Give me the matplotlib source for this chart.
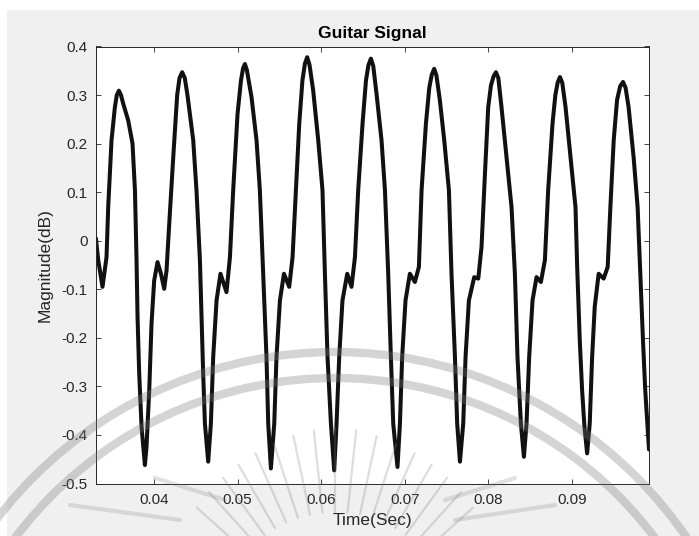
#!/usr/bin/env python3
import matplotlib
matplotlib.use("Agg")
import numpy as np
import matplotlib.pyplot as plt
from matplotlib.patches import Circle, Rectangle


# Guitar waveform (roughly one row per cycle)
time_s = [
    0.03305, 0.03333, 0.03384, 0.03432, 0.03452, 0.03492, 0.03532, 0.03555,
    0.03580, 0.03605, 0.03632, 0.03691, 0.03743, 0.03772, 0.03791, 0.03803,
    0.03823, 0.03851, 0.03891, 0.03910, 0.03943, 0.03970, 0.04002, 0.04042,
    0.04083, 0.04122, 0.04150, 0.04182, 0.04230, 0.04277, 0.04305, 0.04337,
    0.04368, 0.04400, 0.04469, 0.04508, 0.04549, 0.04568, 0.04588, 0.04609,
    0.04648, 0.04680, 0.04708, 0.04748, 0.04795, 0.04867, 0.04908, 0.04947,
    0.04999, 0.05040, 0.05065, 0.05087, 0.05110,
    0.05166, 0.05226, 0.05266, 0.05306, 0.05345, 0.05366, 0.05398, 0.05438,
    0.05465, 0.05506, 0.05554, 0.05617, 0.05657, 0.05697, 0.05737, 0.05775,
    0.05805, 0.05832, 0.05860,
    0.05904, 0.05964, 0.06015, 0.06044, 0.06075, 0.06116, 0.06155, 0.06183,
    0.06215, 0.06254, 0.06311, 0.06362, 0.06403, 0.06442, 0.06494, 0.06535,
    0.06565, 0.06594, 0.06622,
    0.06661, 0.06721, 0.06762, 0.06801, 0.06833, 0.06861, 0.06912, 0.06941,
    0.06968, 0.07008, 0.07060, 0.07120, 0.07168, 0.07200, 0.07252, 0.07292,
    0.07322, 0.07351, 0.07378,
    0.07419, 0.07471, 0.07527, 0.07558, 0.07599, 0.07626, 0.07659, 0.07698,
    0.07726, 0.07766, 0.07830, 0.07878, 0.07917, 0.07958, 0.07997, 0.08030,
    0.08060, 0.08089, 0.08118,
    0.08156, 0.08216, 0.08276, 0.08316, 0.08347, 0.08388, 0.08424, 0.08455,
    0.08487, 0.08527, 0.08575, 0.08627, 0.08675, 0.08714, 0.08766, 0.08800,
    0.08828, 0.08855, 0.08883,
    0.08922, 0.08981, 0.09041, 0.09061, 0.09092, 0.09120, 0.09148, 0.09180,
    0.09211, 0.09240, 0.09271, 0.09318, 0.09378, 0.09426, 0.09458, 0.09498,
    0.09538, 0.09575, 0.09609, 0.09640,
    0.09676, 0.09736, 0.09784, 0.09816, 0.09848, 0.09875, 0.09920,
]
magnitude = [
    0.005, -0.040, -0.095, -0.034, 0.069, 0.207, 0.275, 0.300,
    0.309, 0.300, 0.282, 0.248, 0.200, 0.104, -0.040, -0.157,
    -0.274, -0.383, -0.462, -0.425, -0.308, -0.171, -0.082, -0.044,
    -0.068, -0.099, -0.061, 0.035, 0.172, 0.300, 0.335, 0.347,
    0.335, 0.300, 0.207, 0.104, -0.040, -0.157, -0.274, -0.377,
    -0.455, -0.377, -0.239, -0.123, -0.068, -0.106, -0.034, 0.104,
    0.261, 0.330, 0.355, 0.364, 0.352,
    0.296, 0.207, 0.104, -0.068, -0.239, -0.377, -0.469, -0.377,
    -0.239, -0.123, -0.068, -0.095, -0.034, 0.104, 0.241, 0.330,
    0.365, 0.378, 0.362,
    0.309, 0.207, 0.104, -0.068, -0.239, -0.377, -0.473, -0.377,
    -0.239, -0.123, -0.068, -0.095, -0.034, 0.104, 0.241, 0.330,
    0.362, 0.375, 0.360,
    0.303, 0.207, 0.104, -0.068, -0.239, -0.377, -0.466, -0.377,
    -0.239, -0.123, -0.068, -0.085, -0.054, 0.104, 0.241, 0.315,
    0.342, 0.354, 0.340,
    0.289, 0.207, 0.104, -0.068, -0.239, -0.377, -0.455, -0.377,
    -0.239, -0.123, -0.075, -0.078, -0.013, 0.138, 0.275, 0.320,
    0.338, 0.347, 0.335,
    0.275, 0.172, 0.069, -0.068, -0.239, -0.377, -0.445, -0.377,
    -0.239, -0.123, -0.075, -0.085, -0.040, 0.104, 0.241, 0.300,
    0.326, 0.337, 0.325,
    0.275, 0.172, 0.069, -0.054, -0.205, -0.308, -0.383, -0.438,
    -0.377, -0.239, -0.136, -0.068, -0.078, -0.054, 0.069, 0.207,
    0.290, 0.318, 0.327, 0.315,
    0.275, 0.172, 0.069, -0.068, -0.205, -0.308, -0.430,
]

x_ticks = [0.04, 0.05, 0.06, 0.07, 0.08, 0.09]
x_tick_labels = ["0.04", "0.05", "0.06", "0.07", "0.08", "0.09"]
y_ticks = [0.4, 0.3, 0.2, 0.1, 0.0, -0.1, -0.2, -0.3, -0.4, -0.5]
y_tick_labels = ["0.4", "0.3", "0.2", "0.1", "0", "-0.1", "-0.2", "-0.3", "-0.4", "-0.5"]

W, H = 699, 536
AX_COLOR = "#262626"
WM_COLOR = "#7a7a7a"

plt.rcParams["font.family"] = ["Liberation Sans", "DejaVu Sans"]

fig = plt.figure(figsize=(W / 100, H / 100), dpi=100, facecolor="white")

# MATLAB-style grey figure area (thin white margin at top/left)
fig.patches.append(Rectangle((7 / W, 0), 1 - 7 / W, 1 - 10 / H,
                             transform=fig.transFigure, facecolor="#f0f0f0",
                             edgecolor="none", zorder=-10))

left, right, top, bottom = 95.9, 649.0, 46.5, 483.5
ax = fig.add_axes([left / W, 1 - bottom / H, (right - left) / W, (bottom - top) / H])
ax.set_facecolor("white")

ax.plot(time_s, magnitude, color="#111111", linewidth=2.9,
        solid_joinstyle="round", solid_capstyle="round")

ax.set_xlim(0.03305, 0.0992)
ax.set_ylim(-0.5, 0.4)
ax.set_xticks(x_ticks, x_tick_labels)
ax.set_yticks(y_ticks, y_tick_labels)
ax.tick_params(direction="in", top=True, right=True, length=3.6, width=0.6,
               colors=AX_COLOR, labelsize=11, pad=6)
ax.tick_params(axis="x", pad=7)
for sp in ax.spines.values():
    sp.set_color(AX_COLOR)
    sp.set_linewidth(0.7)

ax.set_title("Guitar Signal", fontsize=12.5, fontweight="bold", color="black", pad=6)
ax.set_xlabel("Time(Sec)", fontsize=12.5, color=AX_COLOR, labelpad=4)
ax.set_ylabel("Magnitude(dB)", fontsize=12.5, color=AX_COLOR, labelpad=6)

# faint seal watermark over the whole picture (pixel coords)
wm = fig.add_axes([0, 0, 1, 1], zorder=5)
wm.set_xlim(0, W)
wm.set_ylim(H, 0)
wm.axis("off")
wm.patch.set_alpha(0)
wm_kw = dict(fill=False, edgecolor=WM_COLOR, alpha=0.32)
wm.add_patch(Circle((335, 778), 426, linewidth=6, **wm_kw))
wm.add_patch(Circle((335, 778), 400, linewidth=6, **wm_kw))
for ang in np.arange(-48, 49, 6):
    a = np.deg2rad(ang)
    r0, r1 = 120, 205 - abs(ang) * 0.4
    wm.plot([335 + r0 * np.sin(a), 335 + r1 * np.sin(a)],
            [632 - r0 * np.cos(a), 632 - r1 * np.cos(a)],
            color=WM_COLOR, alpha=0.25, linewidth=1.6, solid_capstyle="round")
for xs, ys in (([70, 180], [505, 520]), ([455, 555], [520, 505]),
               ([155, 225], [478, 500]), ([445, 515], [500, 478])):
    wm.plot(xs, ys, color=WM_COLOR, alpha=0.22, linewidth=3, solid_capstyle="round")

fig.savefig("out.png", dpi=100, facecolor=fig.get_facecolor())
